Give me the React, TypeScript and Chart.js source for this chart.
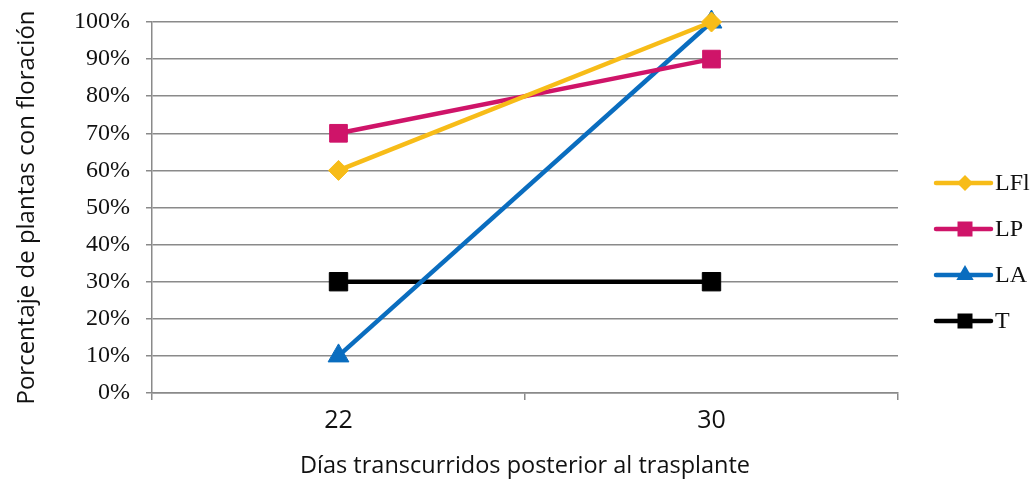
import React, { useEffect, useRef } from "react";
import { Chart, registerables } from "chart.js";

Chart.register(...registerables);

const categories = ["22", "30"];
const seriesNames = ["LFl", "LP", "LA", "T"];
const valuesLFl = [60, 100];
const valuesLP = [70, 90];
const valuesLA = [10, 100];
const valuesT = [30, 30];
const yTicks = [0, 10, 20, 30, 40, 50, 60, 70, 80, 90, 100];

const colors = ["#F7BC18", "#CF1469", "#0A6DBF", "#000000"];
const styles = ["rectRot", "rect", "triangle", "rect"];
const radii = [10, 12.5, 12, 13];

const legendPlugin = {
  id: "customLegend",
  afterDraw(chart: any) {
    const ctx = chart.ctx;
    const ys = [183, 229, 275, 321];
    ctx.save();
    seriesNames.forEach((name, i) => {
      const y = ys[i];
      ctx.strokeStyle = colors[i];
      ctx.fillStyle = colors[i];
      ctx.lineWidth = 4.5;
      ctx.lineCap = "round";
      ctx.beginPath();
      ctx.moveTo(936, y);
      ctx.lineTo(991, y);
      ctx.stroke();
      const cx = 965;
      ctx.beginPath();
      if (i === 0) {
        const r = 8;
        ctx.moveTo(cx, y - r);
        ctx.lineTo(cx + r, y);
        ctx.lineTo(cx, y + r);
        ctx.lineTo(cx - r, y);
        ctx.closePath();
      } else if (i === 2) {
        const r = 10;
        ctx.moveTo(cx, y - r);
        ctx.lineTo(cx + r * 0.866, y + r * 0.5);
        ctx.lineTo(cx - r * 0.866, y + r * 0.5);
        ctx.closePath();
      } else {
        const s = 7.5;
        ctx.rect(cx - s, y - s, 2 * s, 2 * s);
      }
      ctx.fill();
      ctx.fillStyle = "#111";
      ctx.font = "24px 'Liberation Serif'";
      ctx.textBaseline = "middle";
      ctx.textAlign = "left";
      ctx.fillText(name, 995, y + 1);
    });
    ctx.restore();
  },
};

export default function App() {
  const ref = useRef<HTMLCanvasElement>(null);
  useEffect(() => {
    document.body.style.margin = "0";
    const data = [valuesLFl, valuesLP, valuesLA, valuesT];
    const chart = new Chart(ref.current as HTMLCanvasElement, {
      type: "line",
      data: {
        labels: categories,
        datasets: seriesNames.map((name, i) => ({
          label: name,
          data: data[i],
          borderColor: colors[i],
          backgroundColor: colors[i],
          borderWidth: 4.5,
          pointStyle: styles[i] as any,
          pointRadius: radii[i],
          pointBorderWidth: 1,
          pointBorderColor: colors[i],
          pointBackgroundColor: colors[i],
          tension: 0,
          clip: false as any,
        })),
      },
      options: {
        responsive: false,
        animation: false,
        layout: { padding: { left: 0, right: 138, top: 22, bottom: 0 } },
        plugins: { legend: { display: false }, tooltip: { enabled: false } },
        scales: {
          x: {
            offset: true,
            grid: {
              offset: true,
              drawOnChartArea: false,
              drawTicks: true,
              tickLength: 7,
              color: "#8a8a8a",
              lineWidth: 1.5,
            },
            border: { color: "#8a8a8a", width: 1.5 },
            ticks: {
              color: "#111",
              font: { family: "'Open Sans'", size: 25 },
              padding: 6,
            },
            title: {
              display: true,
              text: "Días transcurridos posterior al trasplante",
              color: "#111",
              font: { family: "'Open Sans'", size: 23.5 },
              padding: { top: 0, bottom: 1 },
            },
            afterFit(scale: any) {
              scale.height = 88;
              scale.paddingLeft = 0;
              scale.paddingRight = 0;
            },
          },
          y: {
            min: 0,
            max: 100,
            afterBuildTicks(scale: any) {
              scale.ticks = yTicks.map((v) => ({ value: v }));
            },
            grid: {
              color: "#8a8a8a",
              lineWidth: 1.5,
              tickLength: 6,
            },
            border: { color: "#8a8a8a", width: 1.5 },
            ticks: {
              color: "#111",
              font: { family: "'Liberation Serif'", size: 24 },
              padding: 16,
              callback: (v: any) => v + "%",
            },
            title: {
              display: true,
              text: "Porcentaje de plantas con floración",
              color: "#111",
              font: { family: "'Open Sans'", size: 24 },
              padding: { top: 13, bottom: 0 },
            },
            afterFit(scale: any) {
              scale.width = 152;
              scale.paddingTop = 0;
              scale.paddingBottom = 0;
            },
          },
        },
      },
      plugins: [legendPlugin],
    });
    return () => chart.destroy();
  }, []);
  return (
    <div style={{ position: "fixed", left: 0, top: 0, width: 1036, height: 481, background: "#fff" }}>
      <canvas ref={ref} width={1036} height={481} />
    </div>
  );
}
